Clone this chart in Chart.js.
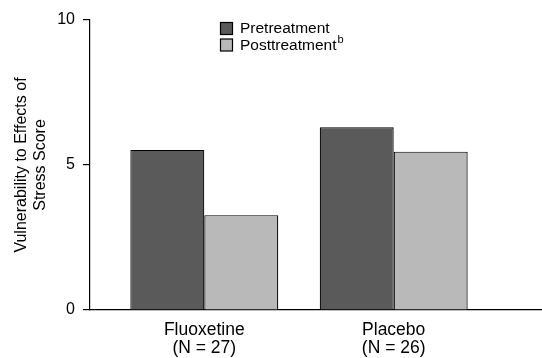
<!DOCTYPE html>
<html>
<head>
<meta charset="utf-8">
<script src="https://cdn.jsdelivr.net/npm/chart.js@4.4.1/dist/chart.umd.min.js"></script>
<style>
  html, body { margin: 0; padding: 0; background: #fff; }
  #wrap { width: 542px; height: 358px; }
</style>
</head>
<body>
<div id="wrap"><canvas id="grafico"></canvas></div>
<script>
// -------- Dados -----------------------------------------------------------------
const grupos = ["Fluoxetine", "Placebo"];
const amostras = ["(N = 27)", "(N = 26)"];
const preTratamento = [5.52, 6.30];
const posTratamento = [3.27, 5.46];
const rotulosSerie = ["Pretreatment", "Posttreatment"];
const yTicks = [0, 5, 10];

const FONTE = "'Liberation Sans', Arial, sans-serif";

// legenda desenhada à mão (para o "b" sobrescrito)
const legendaPlugin = {
    id: "legendaManual",
    afterDraw(chart) {
        const ctx = chart.ctx;
        ctx.save();
        chart.data.datasets.forEach((ds, i) => {
            const y = 22 + i * 16.5;
            ctx.fillStyle = ds.backgroundColor;
            ctx.fillRect(220.5, y + 0.5, 12, 12);
            ctx.strokeStyle = "#000";
            ctx.lineWidth = 1.2;
            ctx.strokeRect(220.5, y + 0.5, 12, 12);
            ctx.fillStyle = "#000";
            ctx.font = "15.5px " + FONTE;
            ctx.textBaseline = "middle";
            ctx.textAlign = "left";
            ctx.fillText(ds.label, 240, y + 7);
            if (i === 1) {
                const w = ctx.measureText(ds.label).width;
                ctx.font = "11px " + FONTE;
                ctx.fillText("b", 240 + w + 1, y + 1.5);
            }
        });
        ctx.restore();
    }
};

const ctx = document.getElementById("grafico").getContext("2d");
new Chart(ctx, {
    type: "bar",
    data: {
        datasets: [
            {
                label: rotulosSerie[0],
                data: preTratamento.map((v, i) => ({ x: i + 1, y: v })),
                backgroundColor: "#5a5a5a",
                borderColor: "#000",
                borderWidth: 1.2,
            },
            {
                label: rotulosSerie[1],
                data: posTratamento.map((v, i) => ({ x: i + 1, y: v })),
                backgroundColor: "#b9b9b9",
                borderColor: "#000",
                borderWidth: 1.2,
            },
        ],
    },
    options: {
        responsive: true,
        maintainAspectRatio: false,
        animation: false,
        categoryPercentage: 0.781,
        barPercentage: 1,
        layout: { padding: { top: 20, right: 0, left: 0, bottom: 0 } },
        plugins: {
            legend: { display: false },
            tooltip: { enabled: false },
        },
        scales: {
            x: {
                type: "linear",
                offset: false,
                min: 0.3965,
                max: 2.783,
                afterBuildTicks: (s) => { s.ticks = grupos.map((g, i) => ({ value: i + 1 })); },
                afterFit: (s) => {
                    s.height = 48;
                    s.paddingLeft = 0;
                    s.paddingRight = 0;
                },
                ticks: {
                    autoSkip: false,
                    maxRotation: 0,
                    padding: 11,
                    color: "#000",
                    font: { family: FONTE, size: 17.5, lineHeight: 1.03 },
                    callback: (v) => {
                        const i = Math.round(v) - 1;
                        return [grupos[i], amostras[i]];
                    },
                },
                // sem grade, e sem comprimento de tick (senão os rótulos descem)
                grid: { display: false, drawTicks: false },
                border: { display: true, color: "#000", width: 1.2 },
            },
            y: {
                min: 0,
                max: 10,
                afterBuildTicks: (s) => { s.ticks = yTicks.map((v) => ({ value: v })); },
                afterFit: (s) => { s.width = 90; },
                ticks: {
                    padding: 8,
                    color: "#000",
                    font: { family: FONTE, size: 16 },
                },
                grid: {
                    display: true,
                    drawOnChartArea: false,
                    drawTicks: true,
                    tickLength: 7,
                    color: "#000",
                    lineWidth: 1.2,
                },
                border: { display: true, color: "#000", width: 1.2 },
                title: {
                    display: true,
                    text: ["Vulnerability to Effects of", "Stress Score"],
                    color: "#000",
                    font: { family: FONTE, size: 16, lineHeight: 1.2 },
                    padding: { top: 12, bottom: 0 },
                },
            },
        },
    },
    plugins: [legendaPlugin],
});
</script>
</body>
</html>
